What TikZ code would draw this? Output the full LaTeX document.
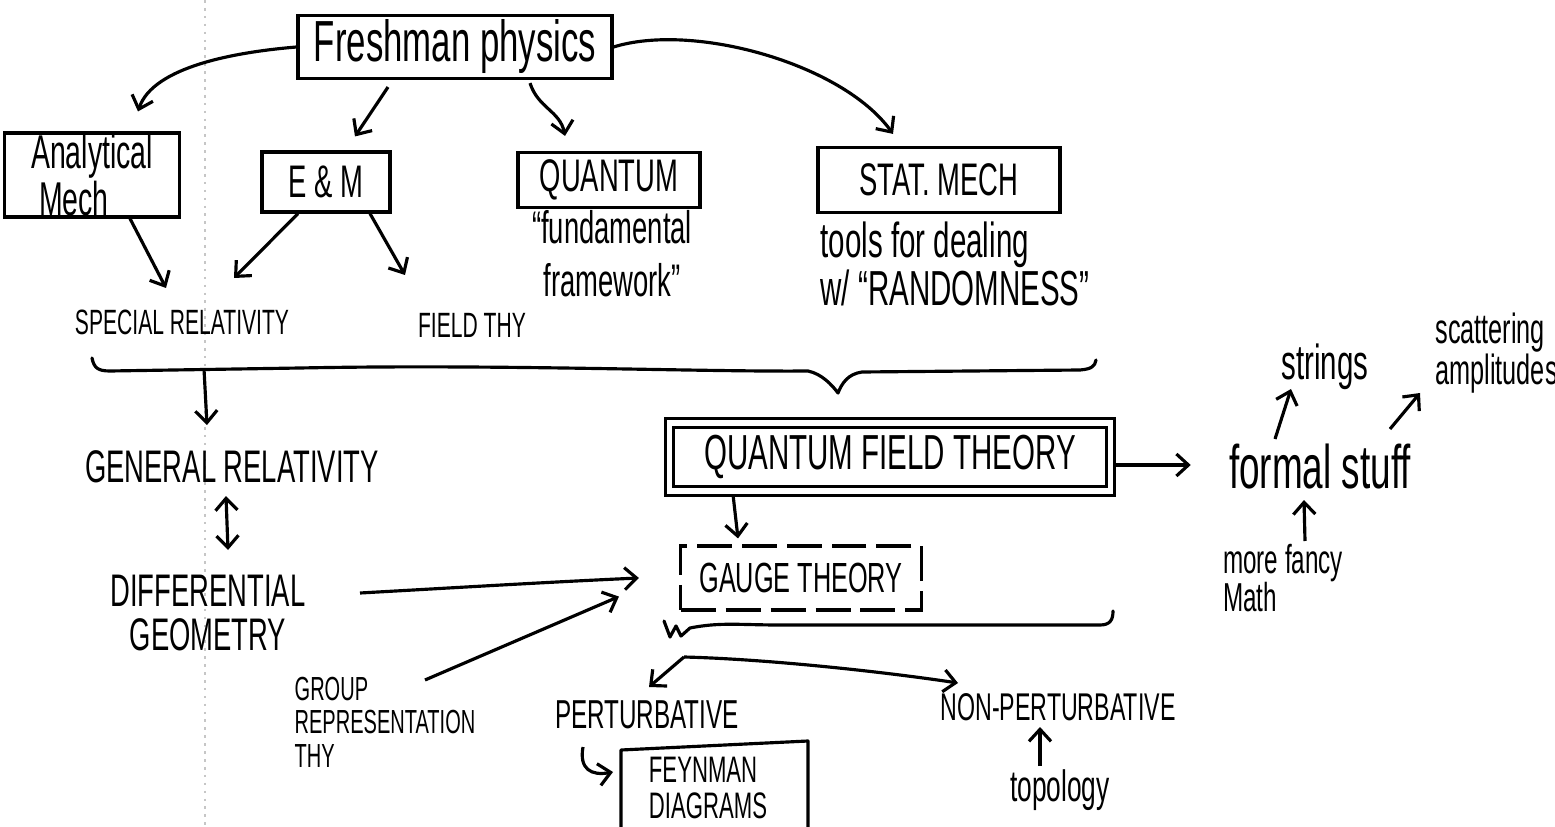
\documentclass[tikz,border=0pt]{standalone}
\usepackage{fontspec}
\newfontfamily\hand{Liberation Sans}[FakeStretch=0.6]
\usetikzlibrary{arrows.meta,calc}

\begin{document}
\begin{tikzpicture}[x=0.02cm, y=-0.02cm,
  hw/.style 2 args={font=\hand\fontsize{#1}{#2}\selectfont, inner sep=0pt, align=center},
  box/.style={draw, line width=1.8pt},
  arr/.style={-{Straight Barb[length=2.4mm,width=4.4mm]}, line width=1.8pt},
  dbl/.style={{Straight Barb[length=2.4mm,width=4.4mm]}-{Straight Barb[length=2.4mm,width=4.4mm]}, line width=1.8pt},
  pen/.style={line width=1.8pt, line cap=round, line join=round}
]
\useasboundingbox (0,0) rectangle (1555,827);
% fold of the page
\draw[gray!45, line width=0.8pt, dash pattern=on 1.5pt off 3pt] (205,0) -- (205,827);

% top row
\node[box, hw={33}{36}, minimum width=6.28cm, minimum height=1.26cm] (fresh) at (455,47) {Freshman physics};
\node[box, hw={27}{27}, align=left, minimum width=3.5cm, minimum height=1.68cm] (anmech) at (92,175) {Analytical\\\ Mech};
\node[box, hw={26}{28}, minimum width=2.56cm, minimum height=1.2cm] (em) at (326,182) {E \& M};
\node[box, hw={26}{28}, minimum width=3.64cm, minimum height=1.1cm] (quantum) at (609,180) {QUANTUM};
\node[box, hw={26}{28}, minimum width=4.84cm, minimum height=1.3cm] (statmech) at (939,180) {STAT. MECH};
\node[hw={26}{30}] (fund) at (612,254) {“fundamental\\framework”};
\node[hw={28}{26}, align=left] (tools) at (955,264) {tools for dealing\\w/ “RANDOMNESS”};

\node[hw={20}{22}] (sr) at (182,322) {SPECIAL RELATIVITY};
\node[hw={20}{22}] (ft) at (472,325) {FIELD THY};

% left column
\node[hw={26}{28}] (gr) at (232,467) {GENERAL RELATIVITY};
\node[hw={26}{25}] (dg) at (208,613) {DIFFERENTIAL\\GEOMETRY};
\node[hw={19}{19}, align=left] (grp) at (385,722) {GROUP\\REPRESENTATION\\THY};

% middle
\node[draw, double, line width=1.6pt, double distance=0.11cm, minimum width=8.82cm, minimum height=1.36cm, hw={28}{30}] (qft) at (890,457) {QUANTUM FIELD THEORY};
\node[draw, line width=1.8pt, dash pattern=on 7mm off 2mm, minimum width=4.82cm, minimum height=1.28cm, hw={24}{26}] (gauge) at (801,578) {GAUGE THEORY};
\node[hw={23}{24}] (pert) at (647,715) {PERTURBATIVE};
\node[hw={22}{24}] (nonpert) at (1058,707) {NON-PERTURBATIVE};
\node[hw={25}{26}] (topo) at (1060,790) {topology};
\node[hw={21}{20}, align=left] (feyn) at (708,788) {FEYNMAN\\DIAGRAMS};
\draw[pen] (621,830) -- (621,750) -- (808,741) -- (808,830);

% right
\node[hw={35}{36}] (formal) at (1320,467) {formal stuff};
\node[hw={28}{28}] (strings) at (1325,367) {strings};
\node[hw={24}{22}, align=left, anchor=west] (scat) at (1435,353) {scattering\\amplitudes};
\node[hw={23}{22}, align=left] (fancy) at (1283,578) {more fancy\\Math};

% arrows from the top
\draw[arr] (fresh.west) .. controls +(-60,5) and +(15,-45) .. ($(anmech.north)+(46,-20)$);
\draw[arr] ($(fresh.south)+(-67,7)$) -- ($(em.north)+(29,-14)$);
\draw[arr] ($(fresh.south)+(75,3)$) .. controls +(8,25) and +(-5,-25) .. ($(quantum.north)+(-44,-15)$);
\draw[arr] (fresh.east) .. controls +(80,-25) and +(-50,-70) .. ($(statmech.north)+(-46,-12)$);
\draw[arr] ($(anmech.south)+(38,0)$) -- ($(sr)+(-16,-34)$);
\draw[arr] ($(em.south)+(-28,0)$) -- ($(sr)+(52,-44)$);
\draw[arr] ($(em.south)+(44,0)$) -- ($(ft)+(-67,-50)$);

% brace
\draw[pen] (92,358) .. controls (94,368) and (98,371) .. (110,371) -- (300,368)
  .. controls (500,364) and (700,372) .. (808,371) .. controls (822,374) and (832,385) .. (838,393)
  .. controls (842,383) and (848,374) .. (862,372) -- (1080,370) .. controls (1092,369) and (1095,366) .. (1096,360);
\coordinate (brl) at (204,369);
\draw[arr] (brl) -- ($(gr)+(-25,-42)$);
\draw[dbl] ($(gr)+(-6,29)$) -- ($(dg)+(20,-63)$);
\draw[arr] ($(dg)+(152,-20)$) .. controls +(90,-5) and +(-90,4) .. ($(gauge.west)+(-40,0)$);
\draw[arr] ($(grp)+(40,-42)$) -- ($(gauge.south west)+(-60,-15)$);

% qft
\draw[arr] ($(qft.south)+(-157,2)$) -- ($(gauge.north)+(-63,-6)$);
\draw[arr] ($(qft.east)+(4,8)$) -- ($(formal.west)+(-38,-2)$);
\draw[arr] ($(formal)+(-45,-28)$) -- ($(strings)+(-34,22)$);
\draw[arr] ($(formal)+(70,-38)$) -- ($(scat.west)+(-15,40)$);
\draw[arr] ($(fancy)+(22,-37)$) -- ($(formal)+(-16,33)$);

% under gauge theory
\draw[pen] (664,621) -- (670,637) -- (676,626) -- (681,636) -- (690,628)
  .. controls (720,622) and (740,625) .. (780,625) -- (1100,625) .. controls (1110,625) and (1113,620) .. (1113,611);
\coordinate (fork) at (684,657);
\draw[arr] (fork) -- ($(pert)+(2,-28)$);
\draw[arr] (fork) .. controls +(80,2) and +(-80,-12) .. ($(nonpert)+(-100,-24)$);
\draw[arr] ($(pert)+(-64,32)$) .. controls +(-4,22) and +(-22,4) .. ($(feyn)+(-95,-16)$);
\draw[arr] ($(topo)+(-20,-24)$) -- ($(nonpert)+(-18,20)$);
\end{tikzpicture}
\end{document}
